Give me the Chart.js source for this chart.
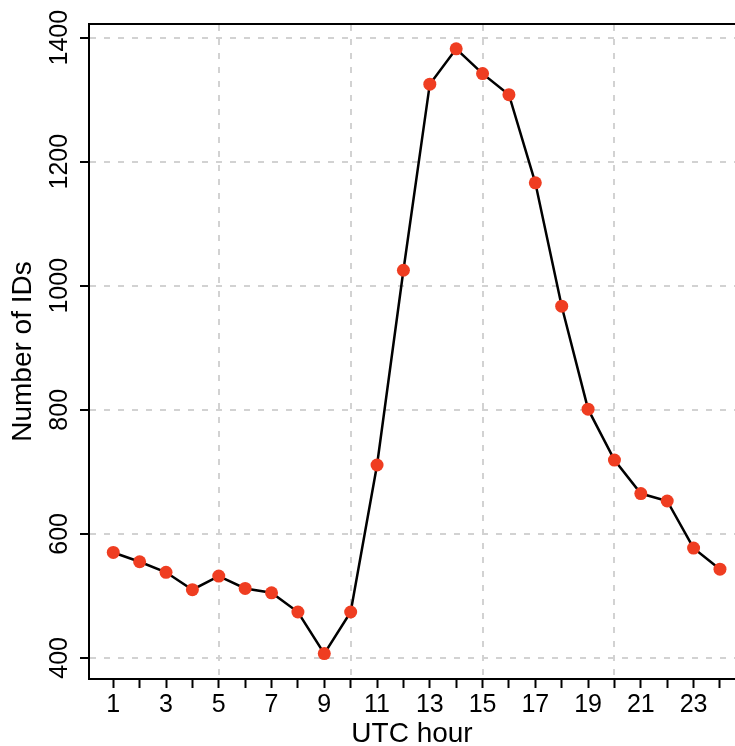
<!DOCTYPE html>
<html>
<head>
<meta charset="utf-8">
<script src="https://cdn.jsdelivr.net/npm/chart.js@4"></script>
<style>
  html, body { margin: 0; padding: 0; background: #fff; }
  canvas { display: block; }
</style>
</head>
<body>
<canvas id="hour-chart" width="735" height="746"></canvas>
<script>
// Values
const hours = [1, 2, 3, 4, 5, 6, 7, 8, 9, 10, 11, 12, 13, 14, 15, 16, 17, 18, 19, 20, 21, 22, 23, 24];
const ids = [570, 555, 538, 510, 532, 512, 505, 474, 407, 474, 711, 1025, 1325, 1382, 1342, 1308, 1166, 967, 801, 719, 665, 653, 577, 543];
const xLabelHours = [1, 3, 5, 7, 9, 11, 13, 15, 17, 19, 21, 23];
const xGridHours = [5, 10, 15, 20];
const yTicks = [400, 600, 800, 1000, 1200, 1400];

const fontFamily = "'Liberation Sans', Arial, Helvetica, sans-serif";
const gridGrey = '#d2d2d2';

const ctx = document.getElementById('hour-chart');

new Chart(ctx, {
  type: 'line',
  data: {
    datasets: [{
      label: 'Number of IDs',
      data: hours.map((h, i) => ({ x: h, y: ids[i] })),
      xAxisID: 'x',
      yAxisID: 'y',
      borderColor: '#000',
      borderWidth: 2.5,
      tension: 0,
      pointRadius: 6.5,
      pointBackgroundColor: '#ef3d21',
      pointBorderWidth: 0,
      fill: false
    }]
  },
  options: {
    responsive: false,
    animation: false,
    devicePixelRatio: 1,
    layout: { padding: 0, autoPadding: false },
    plugins: {
      legend: { display: false },
      tooltip: { enabled: false }
    },
    scales: {
      x: {
        type: 'linear',
        position: 'bottom',
        min: 0.08,
        max: 24.57,
        afterBuildTicks: (scale) => { scale.ticks = hours.map(v => ({ value: v })); },
        afterFit: (scale) => { scale.height = 67; },
        ticks: {
          autoSkip: false,
          maxRotation: 0,
          padding: 2,
          color: '#000',
          font: { family: fontFamily, size: 25 },
          callback: (value) => xLabelHours.includes(value) ? String(value) : ''
        },
        grid: {
          drawOnChartArea: false,
          drawTicks: true,
          tickLength: 9,
          tickWidth: 2,
          tickColor: '#000',
          tickBorderDash: []
        },
        border: { display: true, color: '#000', width: 2 },
        title: {
          display: true,
          text: 'UTC hour',
          color: '#000',
          padding: { top: 0, bottom: -2 },
          font: { family: fontFamily, size: 28, lineHeight: 1 }
        }
      },
      xTop: {
        type: 'linear',
        position: 'top',
        min: 0.08,
        max: 24.57,
        afterBuildTicks: (scale) => { scale.ticks = xGridHours.map(v => ({ value: v })); },
        afterFit: (scale) => { scale.height = 24; },
        ticks: { display: false },
        grid: {
          drawOnChartArea: true,
          drawTicks: false,
          color: gridGrey,
          lineWidth: 2
        },
        border: { display: true, color: '#000', width: 2, dash: [6, 8] }
      },
      y: {
        type: 'linear',
        position: 'left',
        min: 366,
        max: 1422,
        afterBuildTicks: (scale) => { scale.ticks = yTicks.map(v => ({ value: v })); },
        afterFit: (scale) => { scale.width = 89; },
        ticks: {
          minRotation: 90,
          maxRotation: 90,
          crossAlign: 'center',
          padding: -8,
          color: '#000',
          font: { family: fontFamily, size: 25 },
          callback: (value) => String(value)
        },
        grid: {
          color: gridGrey,
          lineWidth: 2,
          drawTicks: true,
          tickLength: 9,
          tickWidth: 2,
          tickColor: '#000',
          tickBorderDash: []
        },
        border: { display: true, color: '#000', width: 2, dash: [6, 8] },
        title: {
          display: true,
          text: 'Number of IDs',
          color: '#000',
          padding: { top: 9, bottom: 0 },
          font: { family: fontFamily, size: 28, lineHeight: 1 }
        }
      }
    }
  }
});
</script>
</body>
</html>
